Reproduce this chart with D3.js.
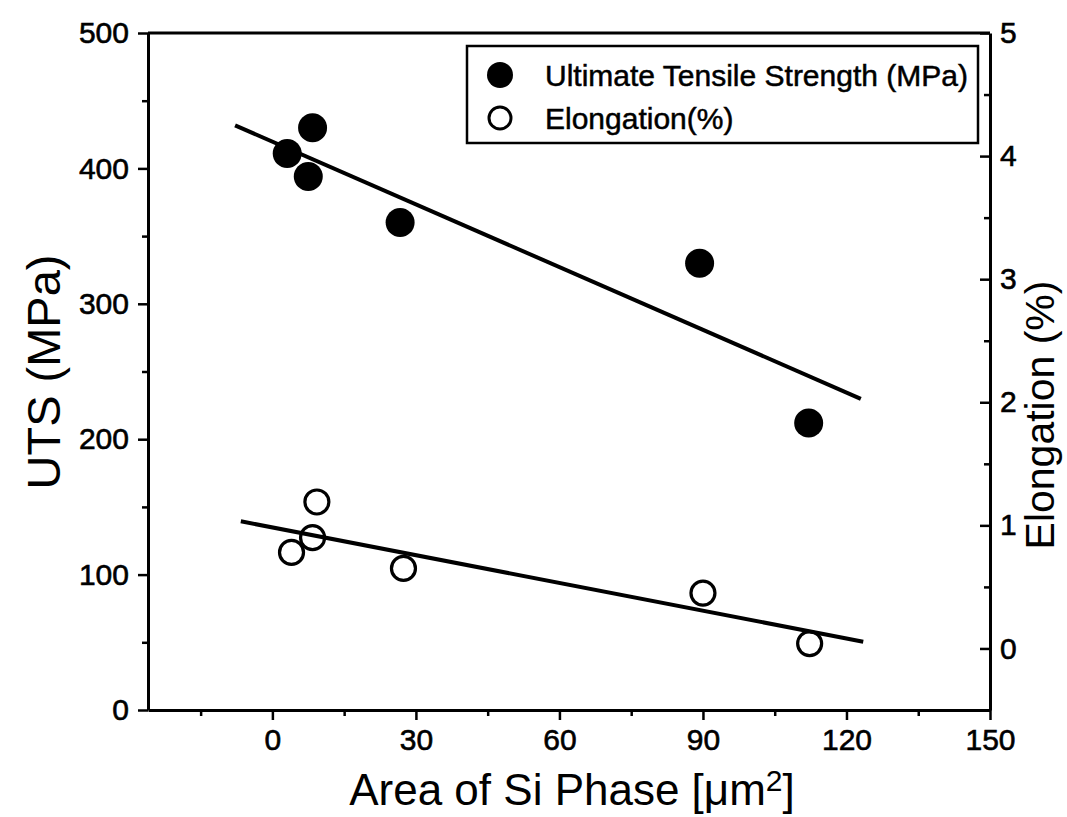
<!DOCTYPE html>
<html>
<head>
<meta charset="utf-8">
<script src="https://cdn.jsdelivr.net/npm/d3@7"></script>
<style>
  html, body { margin: 0; padding: 0; background: #fff; }
  svg text { font-family: "Liberation Sans", Arial, Helvetica, sans-serif; fill: #000; }
</style>
</head>
<body>
<svg id="chart" width="1067" height="817"></svg>
<script>
// Si phase area (µm²) and measured properties
const utsArea = [3.1, 8.4, 7.5, 26.7, 89.3, 112.1];
const utsValues = [411, 430, 394, 360, 330, 212];
const elongArea = [4.0, 8.4, 9.3, 27.4, 90.0, 112.3];
const elongValues = [0.78, 0.90, 1.19, 0.65, 0.45, 0.04];

// extent of each fitted line along the x axis
const utsFitRange = [-7.8, 123];
const elongFitRange = [-6.6, 123.5];

// tick values
const xMajorTicks = [0, 30, 60, 90, 120, 150];
const xMinorTicks = [-15, 15, 45, 75, 105, 135];
const utsMajorTicks = [0, 100, 200, 300, 400, 500];
const utsMinorTicks = [50, 150, 250, 350, 450];
const elongMajorTicks = [0, 1, 2, 3, 4, 5];
const elongMinorTicks = [0.5, 1.5, 2.5, 3.5, 4.5];

const legendLabels = ["Ultimate Tensile Strength (MPa)", "Elongation(%)"];

const svg = d3.select("#chart");
const plot = { left: 148, right: 990, top: 33, bottom: 710 };

const x = d3.scaleLinear().domain([-26, 150]).range([plot.left, plot.right]);
const yL = d3.scaleLinear().domain([0, 500]).range([plot.bottom, plot.top]);
const yR = d3.scaleLinear().domain([-0.5, 5]).range([plot.bottom, plot.top]);

// least-squares line through a set of points
function linearFit(xs, ys) {
  const mx = d3.mean(xs), my = d3.mean(ys);
  let sxy = 0, sxx = 0;
  xs.forEach((v, i) => { sxy += (v - mx) * (ys[i] - my); sxx += (v - mx) * (v - mx); });
  const slope = sxy / sxx;
  return v => my + slope * (v - mx);
}

const tickFont = 30;

function styleAxis(g) {
  g.select(".domain").attr("stroke", "#000").attr("stroke-width", 3);
  g.selectAll(".tick line").attr("stroke", "#000").attr("stroke-width", 2.5);
  g.selectAll(".tick text").attr("font-size", tickFont).attr("fill", "#000")
    .attr("stroke", "#000").attr("stroke-width", 0.6);
}
function styleMinor(g) {
  g.select(".domain").remove();
  g.selectAll(".tick line").attr("stroke", "#000").attr("stroke-width", 2.5);
}

// bottom axis
const xAxisG = svg.append("g").attr("transform", `translate(0,${plot.bottom})`)
  .call(d3.axisBottom(x).tickValues(xMajorTicks).tickFormat(d3.format("d"))
    .tickSize(10).tickPadding(9).tickSizeOuter(0));
styleAxis(xAxisG);
svg.append("g").attr("transform", `translate(0,${plot.bottom})`)
  .call(d3.axisBottom(x).tickValues(xMinorTicks).tickSize(6).tickFormat("").tickSizeOuter(0))
  .call(styleMinor);

// left axis (UTS)
const yLG = svg.append("g").attr("transform", `translate(${plot.left},0)`)
  .call(d3.axisLeft(yL).tickValues(utsMajorTicks).tickFormat(d3.format("d"))
    .tickSize(10).tickPadding(9).tickSizeOuter(0));
styleAxis(yLG);
svg.append("g").attr("transform", `translate(${plot.left},0)`)
  .call(d3.axisLeft(yL).tickValues(utsMinorTicks).tickSize(6).tickFormat("").tickSizeOuter(0))
  .call(styleMinor);

// right axis (Elongation), ticks pointing inward
const yRG = svg.append("g").attr("transform", `translate(${plot.right},0)`)
  .call(d3.axisRight(yR).tickValues(elongMajorTicks).tickFormat(d3.format("d"))
    .tickSize(-10).tickPadding(10).tickSizeOuter(0));
styleAxis(yRG);
svg.append("g").attr("transform", `translate(${plot.right},0)`)
  .call(d3.axisRight(yR).tickValues(elongMinorTicks).tickSize(-6).tickFormat("").tickSizeOuter(0))
  .call(styleMinor);

// top frame line
svg.append("line")
  .attr("x1", plot.left).attr("x2", plot.right)
  .attr("y1", plot.top).attr("y2", plot.top)
  .attr("stroke", "#000").attr("stroke-width", 3);

// fitted lines
const utsFit = linearFit(utsArea, utsValues);
const elongFit = linearFit(elongArea, elongValues);
const line = d3.line();
svg.append("path")
  .attr("d", line(utsFitRange.map(v => [x(v), yL(utsFit(v))])))
  .attr("stroke", "#000").attr("stroke-width", 4).attr("fill", "none");
svg.append("path")
  .attr("d", line(elongFitRange.map(v => [x(v), yR(elongFit(v))])))
  .attr("stroke", "#000").attr("stroke-width", 4).attr("fill", "none");

// UTS points (filled)
svg.append("g").selectAll("circle")
  .data(utsArea.map((a, i) => [a, utsValues[i]]))
  .join("circle")
  .attr("cx", d => x(d[0])).attr("cy", d => yL(d[1]))
  .attr("r", 14.5).attr("fill", "#000");

// Elongation points (open)
svg.append("g").selectAll("circle")
  .data(elongArea.map((a, i) => [a, elongValues[i]]))
  .join("circle")
  .attr("cx", d => x(d[0])).attr("cy", d => yR(d[1]))
  .attr("r", 12).attr("fill", "none").attr("stroke", "#000").attr("stroke-width", 3.2);

// legend
const legend = svg.append("g");
legend.append("rect")
  .attr("x", 467).attr("y", 46).attr("width", 511).attr("height", 97)
  .attr("fill", "#fff").attr("stroke", "#000").attr("stroke-width", 2.5);
legend.append("circle").attr("cx", 500).attr("cy", 75).attr("r", 13).attr("fill", "#000");
legend.append("circle").attr("cx", 500).attr("cy", 118).attr("r", 11)
  .attr("fill", "none").attr("stroke", "#000").attr("stroke-width", 3);
legendLabels.forEach((t, i) => {
  legend.append("text").attr("x", 545).attr("y", 75 + i * 43)
    .attr("dy", "0.35em").attr("font-size", 30)
    .attr("stroke", "#000").attr("stroke-width", 0.5).text(t);
});

// axis titles
svg.append("text")
  .attr("transform", `translate(60,372) rotate(-90)`)
  .attr("text-anchor", "middle").attr("font-size", 47).text("UTS (MPa)");

svg.append("text")
  .attr("transform", `translate(1054,415) rotate(-90)`)
  .attr("text-anchor", "middle").attr("font-size", 41).text("Elongation (%)");

const xt = svg.append("text")
  .attr("x", 572).attr("y", 805)
  .attr("text-anchor", "middle").attr("font-size", 44);
xt.append("tspan").text("Area of Si Phase [\u03BCm");
xt.append("tspan").attr("font-size", 30).attr("dy", -14).text("2");
xt.append("tspan").attr("dy", 14).text("]");
</script>
</body>
</html>
